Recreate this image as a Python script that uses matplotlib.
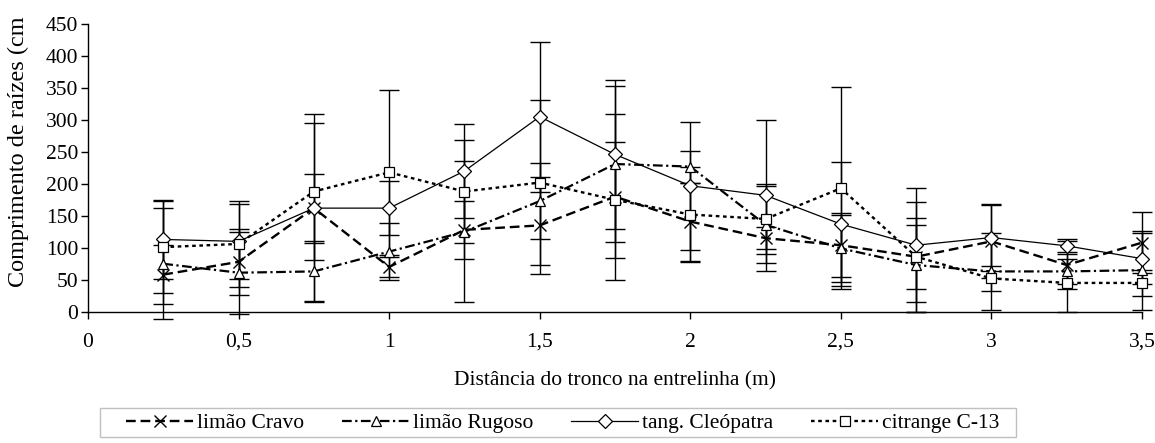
import matplotlib
matplotlib.use("Agg")
import matplotlib.pyplot as plt
from matplotlib.patches import Rectangle

plt.rcParams['font.family'] = ['Liberation Serif', 'DejaVu Serif']
plt.rcParams['lines.scale_dashes'] = False

x = [0.25, 0.5, 0.75, 1.0, 1.25, 1.5, 1.75, 2.0, 2.25, 2.5, 2.75, 3.0, 3.25, 3.5]

cravo = [58, 78, 162, 70, 128, 135, 180, 141, 115, 104, 86, 110, 73, 108]
rugoso = [75, 61, 63, 94, 125, 173, 231, 227, 136, 99, 73, 63, 63, 65]
cleopatra = [113, 110, 162, 162, 220, 305, 246, 197, 182, 137, 104, 116, 103, 83]
c13 = [101, 106, 188, 218, 188, 202, 175, 152, 145, 193, 86, 52, 45, 45]

cravo_sd = [46, 52, 147, 15, 45, 76, 130, 61, 17, 50, 86, 57, 38, 48]
rugoso_sd = [87, 64, 47, 44, 110, 60, 122, 25, 60, 52, 73, 60, 20, 62]
cleopatra_sd = [62, 59, 54, 42, 74, 117, 117, 100, 118, 97, 89, 53, 10, 40]
c13_sd = [72, 67, 107, 129, 81, 129, 91, 75, 55, 158, 50, 20, 45, 20]

labels = ['limão Cravo', 'limão Rugoso', 'tang. Cleópatra', 'citrange C-13']
xticks = [0, 0.5, 1, 1.5, 2, 2.5, 3, 3.5]
xticklabels = ['0', '0,5', '1', '1,5', '2', '2,5', '3', '3,5']
yticks = [0, 50, 100, 150, 200, 250, 300, 350, 400, 450]

W, H = 1155, 443
fig = plt.figure(figsize=(W/100, H/100), dpi=100)
ax = fig.add_axes([88/W, 1-311.7/H, (1142-88)/W, (311.7-24)/H])

series = [
    (cravo, cravo_sd, dict(marker='x', ms=8, mew=1.0, mfc='none', ls=(0, (7, 3.5)), lw=1.7)),
    (rugoso, rugoso_sd, dict(marker='^', ms=7.5, mew=0.9, mfc='white', ls=(0, (7, 2.5, 1.6, 2.5)), lw=1.6)),
    (cleopatra, cleopatra_sd, dict(marker='D', ms=7, mew=0.9, mfc='white', ls='-', lw=0.9)),
    (c13, c13_sd, dict(marker='s', ms=7, mew=0.9, mfc='white', ls=(0, (2.6, 2.6)), lw=1.7)),
]

handles = []
for vals, sd, st in series:
    eb = ax.errorbar(x, vals, yerr=sd, fmt='none', ecolor='black', elinewidth=1.0,
                     capsize=7, capthick=1.0, zorder=2)
    for art in list(eb.lines[1]) + list(eb.lines[2]):
        art.set_clip_on(False)
for (vals, sd, st), lab in zip(series, labels):
    h, = ax.plot(x, vals, color='black', mec='black', label=lab, zorder=3, clip_on=False, **st)
    handles.append(h)

ax.set_xlim(0, 3.5)
ax.set_ylim(0, 450)
ax.set_xticks(xticks)
ax.set_xticklabels(xticklabels)
ax.set_yticks(yticks)
ax.tick_params(axis='both', direction='out', length=5, width=1, labelsize=15.5, color='black')
ax.tick_params(axis='x', pad=10)
ax.tick_params(axis='y', pad=2)
for s in ['top', 'right']:
    ax.spines[s].set_visible(False)
for s in ['left', 'bottom']:
    ax.spines[s].set_linewidth(1.0)
ax.set_xlabel('Distância do tronco na entrelinha (m)', fontsize=15.5)
ax.xaxis.set_label_coords(0.5, (311.7-381)/(311.7-24), transform=ax.transAxes)
ax.xaxis.label.set_va('center')
ax.set_ylabel('Comprimento de raízes (cm', fontsize=17.5)
ax.yaxis.set_label_coords((18-88)/(1142-88), (311.7-152)/(311.7-24), transform=ax.transAxes)
ax.yaxis.label.set_va('center')

# legend frame
fig.patches.append(Rectangle((100/W, 1-437/H), (1016-100)/W, (437-408)/H,
                             transform=fig.transFigure, fill=False,
                             edgecolor='#c0c0c0', linewidth=1.0))
leg = fig.legend(handles=handles, labels=labels, loc='center', ncol=4,
                 bbox_to_anchor=(563/W, 1-423/H), fontsize=15.5, frameon=False,
                 handlelength=3.1, columnspacing=1.75, handletextpad=0.2, borderpad=0.2)

fig.savefig('out.png', dpi=100)
